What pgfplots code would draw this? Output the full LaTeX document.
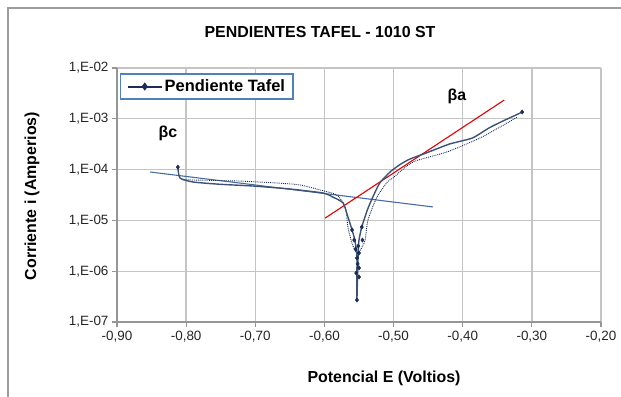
\documentclass[border=0pt]{standalone}
\usepackage{fontspec}
\setmainfont{Liberation Sans}
\usepackage{pgfplots}
\pgfplotsset{compat=1.18}
\definecolor{curve}{RGB}{60,82,118}
\definecolor{navy}{RGB}{28,45,85}
\definecolor{tafel}{RGB}{70,110,160}
\definecolor{legblue}{RGB}{79,129,189}
\definecolor{gridc}{RGB}{196,196,196}
\definecolor{axc}{RGB}{150,150,150}
\begin{document}
\begin{tikzpicture}
\path[use as bounding box] (-117bp,-75bp) rectangle (504bp,322bp);
\draw[gridc!80!black, line width=1.2bp] (-109bp,-80bp) -- (-109bp,314bp) -- (510bp,314bp);
\begin{axis}[
  at={(0,0)}, anchor=south west,
  scale only axis, width=484bp, height=254bp,
  xmin=-0.9, xmax=-0.2, ymode=log, ymin=1e-7, ymax=1e-2,
  xtick={-0.9,-0.8,-0.7,-0.6,-0.5,-0.4,-0.3,-0.2},
  xticklabels={{-0,90},{-0,80},{-0,70},{-0,60},{-0,50},{-0,40},{-0,30},{-0,20}},
  ytick={1e-7,1e-6,1e-5,1e-4,1e-3,1e-2},
  yticklabels={{1,E-07},{1,E-06},{1,E-05},{1,E-04},{1,E-03},{1,E-02}},
  yminorticks=false, xminorticks=false,
  axis x line=bottom, axis y line=left,
  axis line style={-, axc, line width=1.3bp},
  grid=major, grid style={gridc, line width=1.3bp},
  tick align=outside, major tick length=5bp,
  tick style={axc, line width=1.2bp},
  xticklabel style={font=\fontsize{13.5}{15}\selectfont, text=black!85, yshift=-1bp},
  yticklabel style={font=\fontsize{13.5}{15}\selectfont, text=black!85},
  legend style={at={(axis description cs:0.0062,0.980)}, anchor=north west,
    draw=legblue, line width=1.5bp, fill=white,
    font=\bfseries\fontsize{16.5}{19}\selectfont,
    inner xsep=6bp, inner ysep=4bp},
  legend image code/.code={\draw[#1, mark repeat=2, mark phase=2] plot coordinates {(0bp,0bp) (17bp,0bp) (34bp,0bp)};},
]
\addlegendimage{navy, line width=2bp, mark=diamond*, mark size=2.5bp, mark options={solid}}
\addlegendentry{\textbf{Pendiente Tafel}}

% Tafel lines
\addplot[tafel, line width=1.1bp] coordinates {(-0.852,8.97e-5) (-0.443,1.84e-5)};
\addplot[red!90!black, line width=1.1bp] coordinates {(-0.599,1.11e-5) (-0.340,2.34e-3)};

% second (dotted) trace
\addplot[navy, line width=0.9bp, densely dotted, smooth, tension=0.4] coordinates {
(-0.805,6.3e-5) (-0.726,5.97e-5) (-0.669,5.45e-5) (-0.635,4.98e-5)
(-0.606,3.96e-5) (-0.582,3.16e-5) (-0.570,1.84e-5) (-0.566,7.41e-6)
(-0.560,3.5e-6) (-0.552,2.2e-6) (-0.543,3.5e-6) (-0.541,4.11e-6)
(-0.537,1.02e-5) (-0.524,2.89e-5) (-0.509,5.70e-5) (-0.501,6.84e-5)
(-0.472,1.41e-4) (-0.423,2.22e-4) (-0.375,4.19e-4) (-0.346,6.90e-4)
(-0.321,1.08e-3)};

% main trace
\addplot[curve, line width=1.4bp, smooth, tension=0.35] coordinates {
(-0.812,1.12e-4) (-0.809,6.84e-5) (-0.790,5.70e-5) (-0.750,5.13e-5)
(-0.703,4.75e-5) (-0.650,4.15e-5) (-0.602,3.46e-5) (-0.588,2.89e-5)
(-0.573,2.20e-5) (-0.566,1.17e-5) (-0.560,6.47e-6) (-0.556,4.11e-6)
(-0.553,2.08e-6) (-0.553,1.06e-6) (-0.553,5.35e-7) (-0.553,2.71e-7)
(-0.552,9.0e-7) (-0.551,2.5e-6) (-0.550,4.11e-6) (-0.546,7.41e-6)
(-0.538,1.60e-5) (-0.530,2.89e-5) (-0.520,5.45e-5) (-0.505,9.0e-5)
(-0.491,1.25e-4) (-0.477,1.60e-4) (-0.453,2.12e-4) (-0.419,3.19e-4)
(-0.386,4.19e-4) (-0.362,6.6e-4) (-0.340,9.3e-4) (-0.327,1.12e-3)
(-0.314,1.36e-3)};

% markers
\addplot[only marks, mark=diamond*, mark size=2.2bp, navy] coordinates {
(-0.812,1.12e-4) (-0.314,1.36e-3)
(-0.560,6.5e-6) (-0.546,7.4e-6) (-0.557,4.1e-6) (-0.545,4.1e-6)
(-0.551,3.13e-6) (-0.555,2.73e-6) (-0.550,2.28e-6) (-0.553,1.82e-6)
(-0.552,1.39e-6) (-0.550,1.16e-6) (-0.554,9.2e-7) (-0.550,7.7e-7)
(-0.553,2.71e-7)};
\end{axis}
\node[font=\bfseries\fontsize{16}{19}\selectfont] at (203bp,290bp) {PENDIENTES TAFEL - 1010 ST};
\node[font=\bfseries\fontsize{16}{19}\selectfont] at (267bp,-56bp) {Potencial E (Voltios)};
\node[font=\bfseries\fontsize{16}{19}\selectfont, rotate=90] at (-85bp,126bp) {Corriente i (Amperios)};
\node[font=\bfseries\fontsize{16}{19}\selectfont] at (51bp,189bp) {βc};
\node[font=\bfseries\fontsize{16}{19}\selectfont] at (340bp,226bp) {βa};
\end{tikzpicture}
\end{document}
